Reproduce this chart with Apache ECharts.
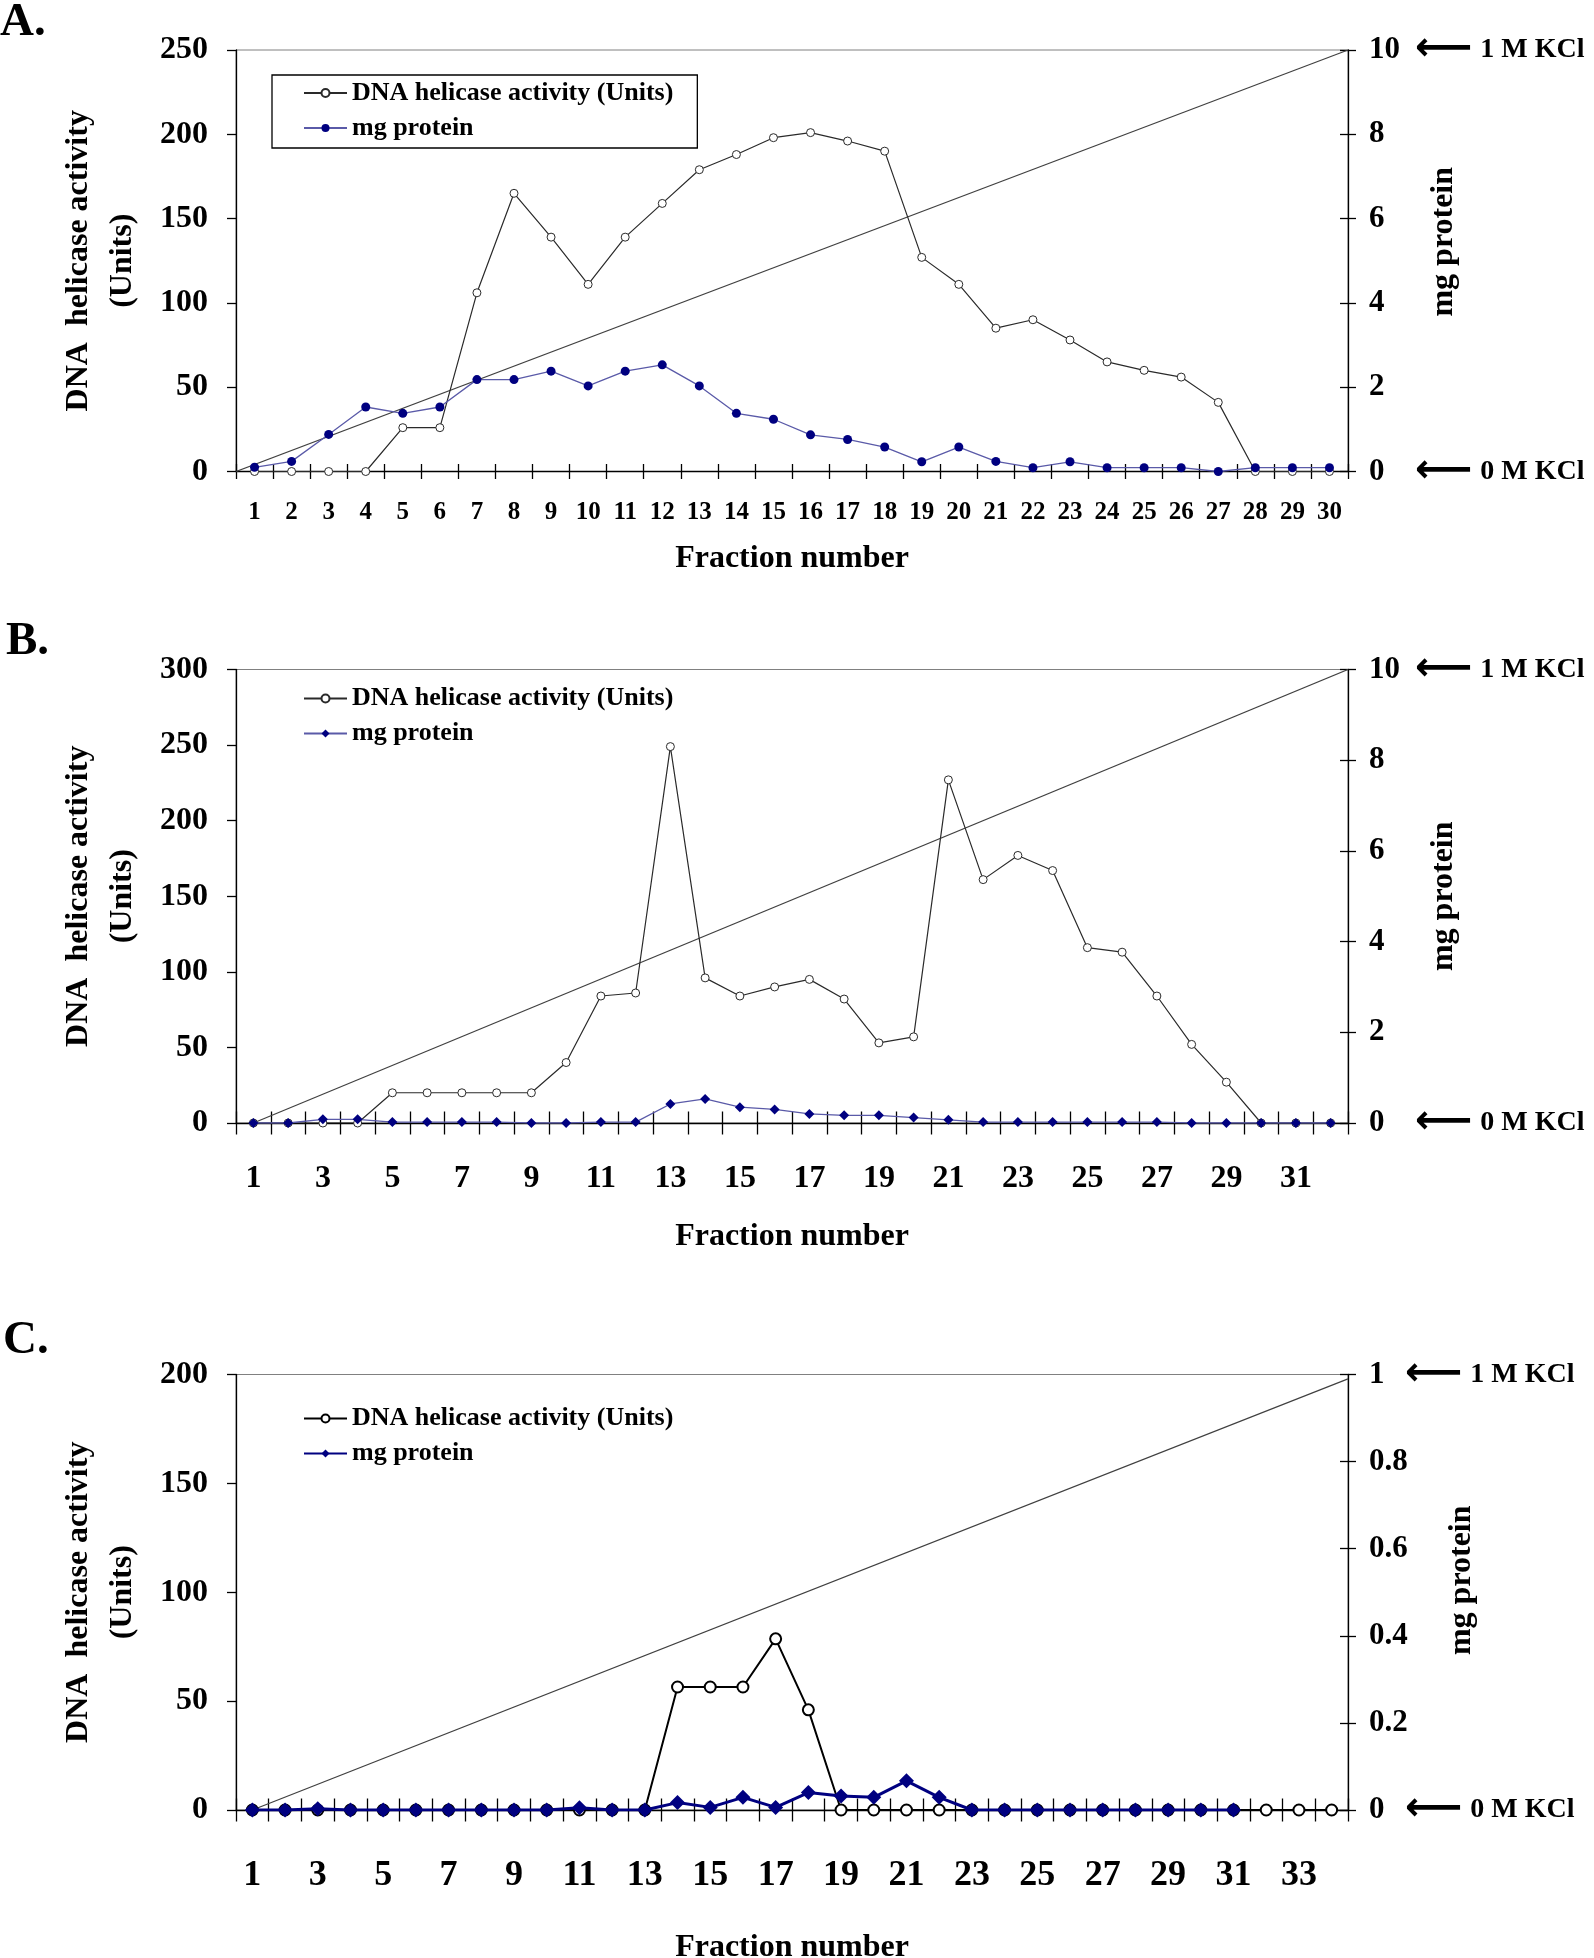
<!DOCTYPE html>
<html><head><meta charset="utf-8">
<script src="https://cdn.jsdelivr.net/npm/echarts@6/dist/echarts.min.js"></script>
<style>
html,body{margin:0;padding:0;background:#fff;}
.p{position:absolute;left:0;width:1594px;}
</style></head><body>
<div id="A" class="p" style="top:0;height:610px"></div>
<div id="B" class="p" style="top:610px;height:660px"></div>
<div id="C" class="p" style="top:1270px;height:688px"></div>
<script>
// ---------- data ----------
const fractionsA = ['1','2','3','4','5','6','7','8','9','10','11','12','13','14','15','16','17','18','19','20','21','22','23','24','25','26','27','28','29','30'];
const helicaseA = [0,0,0,0,26,26,106,165,139,111,139,159,179,188,198,201,196,190,127,111,85,90,78,65,60,56,41,0,0,0];
const proteinA = [0.1,0.24,0.88,1.53,1.38,1.53,2.18,2.18,2.38,2.03,2.38,2.53,2.03,1.38,1.24,0.87,0.76,0.58,0.23,0.58,0.24,0.09,0.23,0.09,0.09,0.09,0.0,0.09,0.09,0.09];
const kclA = [[0.5,0],[30.5,10]];

const fractionsB = ['1','2','3','4','5','6','7','8','9','10','11','12','13','14','15','16','17','18','19','20','21','22','23','24','25','26','27','28','29','30','31','32'];
const helicaseB = [0,0,0,0,20,20,20,20,20,40,84,86,249,96,84,90,95,82,53,57,227,161,177,167,116,113,84,52,27,0,0,0];
const proteinB = [0,0,0.08,0.08,0.02,0.02,0.02,0.02,0,0,0.02,0.02,0.42,0.53,0.35,0.3,0.2,0.17,0.17,0.12,0.07,0.02,0.02,0.02,0.02,0.02,0.02,0,0,0,0,0];
const kclB = [[1,0],[32.5,10]];

const fractionsC = ['1','2','3','4','5','6','7','8','9','10','11','12','13','14','15','16','17','18','19','20','21','22','23','24','25','26','27','28','29','30','31','32','33','34'];
const helicaseC = [0,0,0,0,0,0,0,0,0,0,0,0,0,56.5,56.5,56.5,78.6,46,0,0,0,0,0,0,0,0,0,0,0,0,0,0,0,0];
const proteinC = [0,0,0.003,0,0,0,0,0,0,0,0.005,0,0,0.017,0.006,0.029,0.006,0.04,0.032,0.029,0.067,0.029,0,0,0,0,0,0,0,0,0,null,null,null];
const kclC = [[1,0],[34.5,0.99]];

const NAME_H = 'DNA helicase activity (Units)';
const NAME_P = 'mg protein';
const SERIF = '"Liberation Serif", "Times New Roman", serif';
const txt = {fontFamily: SERIF, fontWeight: 'bold', color: '#000'};

function panel(id, o) {
  const chart = echarts.init(document.getElementById(id), null, {renderer: 'canvas'});
  const n = o.categories.length;
  const axisLineStyle = {color: '#000', width: 1.3};
  const rich = {
    n: Object.assign({}, txt, {fontSize: o.rFont, width: o.numBox}),
    a: {fontFamily: '"DejaVu Sans"', fontSize: 40, color: '#000'},
    k: Object.assign({}, txt, {fontSize: 28, padding: [0, 0, 0, 8]})
  };
  const option = {
    animation: false,
    backgroundColor: '#fff',
    title: {text: o.letter, left: o.letterLeft, top: o.letterTop, padding: 0,
            textStyle: Object.assign({}, txt, {fontSize: 47})},
    legend: {
      orient: 'vertical', left: 272, top: o.legendTop,
      data: [NAME_H, NAME_P],
      itemWidth: 43, itemHeight: 10, itemGap: 9,
      padding: [5, 24, 7, 31],
      borderColor: o.legendBorder ? '#000' : 'transparent', borderWidth: o.legendBorder ? 1.3 : 0,
      textStyle: Object.assign({}, txt, {fontSize: 26})
    },
    grid: {left: 236, width: 1112, top: o.gridTop, height: o.gridHeight,
           outerBoundsMode: 'none', containLabel: false,
           show: true, borderColor: '#808080', borderWidth: 1, backgroundColor: 'transparent'},
    xAxis: [
      {type: 'category', data: o.categories, boundaryGap: true, position: 'bottom',
       axisLine: {onZero: false, lineStyle: axisLineStyle},
       axisTick: {show: true, interval: 0, length: o.tickLen, lineStyle: axisLineStyle},
       axisLabel: Object.assign({interval: o.labelInterval, margin: o.labelMargin, fontSize: o.xFont}, txt),
       splitLine: {show: false},
       name: 'Fraction number', nameLocation: 'middle', nameGap: o.xNameGap, nameMoveOverlap: false,
       nameTextStyle: Object.assign({}, txt, {fontSize: 32})},
      {type: 'category', data: o.categories, boundaryGap: true, position: 'bottom',
       axisLine: {show: false, onZero: false},
       axisTick: {show: true, inside: true, interval: 0, length: o.tickLen, lineStyle: axisLineStyle},
       axisLabel: {show: false}, splitLine: {show: false}},
      {type: 'value', show: false, min: 0.5, max: n + 0.5}
    ],
    yAxis: [
      {type: 'value', min: 0, max: o.leftMax, interval: 50, position: 'left',
       axisLine: {show: true, onZero: false, lineStyle: axisLineStyle},
       axisTick: {show: true, length: 9, lineStyle: axisLineStyle},
       splitLine: {show: false},
       axisLabel: Object.assign({margin: 28, fontSize: 32}, txt),
       name: 'DNA  helicase activity\n(Units)', nameLocation: 'middle', nameRotate: 90, nameGap: 91,
       nameMoveOverlap: false,
       nameTextStyle: Object.assign({}, txt, {fontSize: 32, lineHeight: 44})},
      {type: 'value', min: 0, max: o.rightMax, interval: o.rightInterval, position: 'right',
       axisLine: {show: true, onZero: false, lineStyle: axisLineStyle},
       axisTick: {show: true, length: 8, lineStyle: axisLineStyle},
       splitLine: {show: false},
       axisLabel: Object.assign({margin: o.rMargin, fontSize: o.rFont, rich: rich,
         formatter: function (v) {
           if (v === o.rightMax) return '{n|' + v + '}{a|⟵}{k|1 M KCl}';
           if (v === 0) return '{n|0}{a|⟵}{k|0 M KCl}';
           return String(v);
         }}, txt),
       name: 'mg protein', nameLocation: 'middle', nameRotate: 90, nameGap: o.rNameGap,
       nameMoveOverlap: false,
       nameTextStyle: Object.assign({}, txt, {fontSize: 32, padding: o.rNamePad})},
      {type: 'value', min: 0, max: o.rightMax, interval: o.rightInterval, position: 'right',
       axisLine: {show: false, onZero: false},
       axisTick: {show: true, inside: true, length: 8, lineStyle: axisLineStyle},
       axisLabel: {show: false}, splitLine: {show: false}}
    ],
    series: [
      {name: 'KCl gradient', type: 'line', xAxisIndex: 2, yAxisIndex: 1, data: o.kcl,
       symbol: 'none', silent: true, z: 1,
       lineStyle: {color: '#404040', width: 1.2}},
      {name: NAME_H, type: 'line', xAxisIndex: 0, yAxisIndex: 0, data: o.helicase,
       symbol: 'circle', symbolSize: o.hSize, z: 2,
       itemStyle: {color: '#fff', borderColor: o.hColor, borderWidth: o.hBorder},
       lineStyle: {color: o.hColor, width: o.hWidth}},
      {name: NAME_P, type: 'line', xAxisIndex: 0, yAxisIndex: 1, data: o.protein,
       symbol: o.pSymbol, symbolSize: o.pSize, z: 3, connectNulls: false,
       itemStyle: {color: '#000080'},
       lineStyle: {color: o.pLine, width: o.pWidth}}
    ]
  };
  chart.setOption(option);
}

panel('A', {
  letter: 'A.', letterLeft: 0, letterTop: -1, legendTop: 75, legendBorder: true,
  gridTop: 50, gridHeight: 421.5, categories: fractionsA,
  tickLen: 7.5, labelInterval: 0, labelMargin: 29, xFont: 25, xNameGap: 71,
  leftMax: 250, rightMax: 10, rightInterval: 2, rFont: 31, rMargin: 21, numBox: 46,
  rNameGap: 80, rNamePad: [0, 0, 0, 38],
  helicase: helicaseA, protein: proteinA, kcl: kclA,
  hSize: 8, hBorder: 1, hWidth: 1.2, hColor: '#2a2a2a',
  pSymbol: 'circle', pSize: 9, pLine: '#5a5aa8', pWidth: 1.3
});
panel('B', {
  letter: 'B.', letterLeft: 6, letterTop: 8, legendTop: 70.5, legendBorder: false,
  gridTop: 59.5, gridHeight: 453.5, categories: fractionsB,
  tickLen: 11.5, labelInterval: 1, labelMargin: 40, xFont: 32, xNameGap: 98,
  leftMax: 300, rightMax: 10, rightInterval: 2, rFont: 31, rMargin: 21, numBox: 46,
  rNameGap: 80, rNamePad: [0, 0, 0, 0],
  helicase: helicaseB, protein: proteinB, kcl: kclB,
  hSize: 8, hBorder: 1, hWidth: 1.2, hColor: '#2a2a2a',
  pSymbol: 'diamond', pSize: 10, pLine: '#5a5aa8', pWidth: 1.3
});
panel('C', {
  letter: 'C.', letterLeft: 3, letterTop: 47, legendTop: 130.5, legendBorder: false,
  gridTop: 104.5, gridHeight: 435.5, categories: fractionsC,
  tickLen: 11.5, labelInterval: 1, labelMargin: 48, xFont: 36, xNameGap: 122,
  leftMax: 200, rightMax: 1, rightInterval: 0.2, rFont: 31, rMargin: 21, numBox: 36,
  rNameGap: 98, rNamePad: [0, 0, 0, 24],
  helicase: helicaseC, protein: proteinC, kcl: kclC,
  hSize: 11, hBorder: 2, hWidth: 2, hColor: '#000',
  pSymbol: 'diamond', pSize: 15, pLine: '#000080', pWidth: 3
});
</script>
</body></html>
